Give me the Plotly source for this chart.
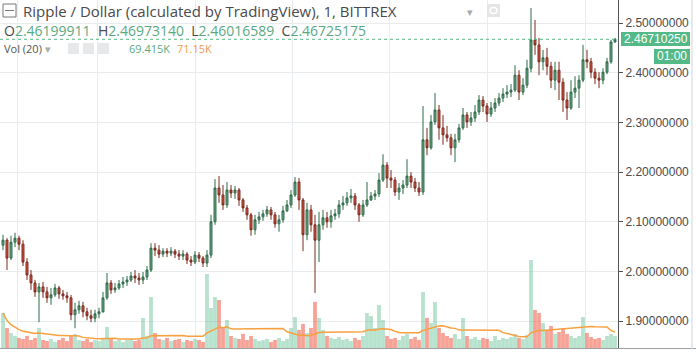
import plotly.graph_objects as go
import pandas as pd

# ---------------- data ----------------
open_ = [2.053,2.063,2.027,2.059,2.067,2.055,2.019,1.993,1.977,1.959,
         1.969,1.959,1.947,1.953,1.967,1.955,1.951,1.947,1.913,1.923,
         1.931,1.919,1.911,1.906,1.915,1.919,1.947,1.977,1.963,1.967,
         1.975,1.979,1.983,1.991,1.987,1.983,1.989,2.003,2.047,2.043,
         2.035,2.041,2.037,2.041,2.035,2.031,2.035,2.023,2.019,2.033,
         2.027,2.017,2.033,2.100,2.168,2.154,2.134,2.164,2.158,2.164,
         2.144,2.128,2.114,2.084,2.104,2.110,2.116,2.124,2.114,2.096,
         2.104,2.122,2.134,2.154,2.180,2.144,2.074,2.124,2.094,2.063,
         2.094,2.108,2.100,2.112,2.116,2.134,2.138,2.148,2.152,2.134,
         2.114,2.134,2.144,2.152,2.156,2.184,2.214,2.188,2.184,2.160,
         2.168,2.174,2.192,2.180,2.168,2.160,2.265,2.249,2.301,2.325,
         2.289,2.275,2.269,2.249,2.265,2.289,2.315,2.301,2.309,2.321,
         2.345,2.333,2.317,2.329,2.339,2.349,2.357,2.361,2.365,2.395,
         2.361,2.375,2.409,2.466,2.456,2.422,2.430,2.413,2.385,2.405,
         2.381,2.345,2.329,2.361,2.369,2.385,2.426,2.422,2.401,2.389,
         2.385,2.401,2.422,2.46199911]
high = [2.074,2.067,2.072,2.078,2.072,2.063,2.027,2.003,1.983,1.977,
        1.979,1.969,1.967,1.975,1.971,1.963,1.959,1.953,1.937,1.941,
        1.939,1.927,1.923,1.923,1.927,1.959,1.997,1.983,1.977,1.983,
        1.989,1.991,1.999,2.003,1.997,1.999,2.011,2.057,2.057,2.053,
        2.047,2.047,2.049,2.045,2.043,2.043,2.039,2.031,2.041,2.039,
        2.031,2.043,2.114,2.186,2.192,2.174,2.180,2.174,2.172,2.168,
        2.148,2.134,2.118,2.114,2.120,2.124,2.132,2.130,2.120,2.114,
        2.132,2.144,2.164,2.190,2.188,2.148,2.138,2.134,2.114,2.120,
        2.124,2.120,2.124,2.126,2.144,2.152,2.160,2.166,2.158,2.138,
        2.144,2.180,2.160,2.164,2.198,2.236,2.220,2.204,2.190,2.178,
        2.184,2.226,2.200,2.188,2.180,2.333,2.289,2.315,2.359,2.335,
        2.315,2.293,2.277,2.277,2.297,2.329,2.321,2.321,2.335,2.355,
        2.353,2.339,2.341,2.349,2.359,2.369,2.375,2.377,2.415,2.405,
        2.389,2.426,2.530,2.506,2.470,2.446,2.450,2.422,2.422,2.422,
        2.389,2.361,2.385,2.393,2.395,2.456,2.446,2.430,2.409,2.401,
        2.409,2.430,2.466,2.46973140]
low = [2.043,2.003,2.023,2.049,2.043,2.011,1.983,1.963,1.949,1.898,
       1.947,1.937,1.933,1.949,1.945,1.943,1.937,1.902,1.886,1.915,
       1.908,1.902,1.898,1.898,1.906,1.917,1.943,1.955,1.957,1.963,
       1.967,1.971,1.979,1.977,1.973,1.975,1.983,1.999,2.031,2.027,
       2.029,2.029,2.031,2.027,2.023,2.023,2.015,2.011,2.015,2.019,
       2.009,2.009,2.027,2.094,2.138,2.124,2.128,2.148,2.146,2.132,
       2.120,2.104,2.072,2.074,2.096,2.102,2.110,2.104,2.088,2.080,
       2.098,2.120,2.128,2.150,2.124,2.041,2.063,2.080,1.957,2.019,
       2.084,2.088,2.088,2.104,2.108,2.124,2.132,2.138,2.124,2.100,
       2.110,2.130,2.142,2.144,2.150,2.180,2.168,2.168,2.152,2.144,
       2.156,2.168,2.168,2.160,2.152,2.154,2.234,2.245,2.295,2.265,
       2.255,2.261,2.234,2.220,2.259,2.285,2.289,2.293,2.301,2.315,
       2.321,2.301,2.311,2.321,2.333,2.341,2.349,2.351,2.361,2.345,
       2.355,2.369,2.401,2.436,2.395,2.405,2.395,2.369,2.365,2.345,
       2.321,2.305,2.325,2.349,2.329,2.381,2.409,2.389,2.377,2.369,
       2.377,2.397,2.418,2.46016589]
close = [2.063,2.027,2.059,2.067,2.055,2.019,1.993,1.977,1.959,1.969,
         1.959,1.947,1.953,1.967,1.955,1.951,1.947,1.913,1.923,1.931,
         1.919,1.911,1.906,1.915,1.919,1.947,1.977,1.963,1.967,1.975,
         1.979,1.983,1.991,1.987,1.983,1.989,2.003,2.047,2.043,2.035,
         2.041,2.037,2.041,2.035,2.031,2.035,2.023,2.019,2.033,2.027,
         2.017,2.033,2.100,2.168,2.154,2.134,2.164,2.158,2.164,2.144,
         2.128,2.114,2.084,2.104,2.110,2.116,2.124,2.114,2.096,2.104,
         2.122,2.134,2.154,2.180,2.144,2.074,2.124,2.094,2.063,2.094,
         2.108,2.100,2.112,2.116,2.134,2.138,2.148,2.152,2.134,2.114,
         2.134,2.144,2.152,2.156,2.184,2.214,2.188,2.184,2.160,2.168,
         2.174,2.192,2.180,2.168,2.160,2.265,2.249,2.301,2.325,2.289,
         2.275,2.269,2.249,2.265,2.289,2.315,2.301,2.309,2.321,2.345,
         2.333,2.317,2.329,2.339,2.349,2.357,2.361,2.365,2.395,2.361,
         2.375,2.409,2.466,2.456,2.422,2.430,2.413,2.385,2.405,2.381,
         2.345,2.329,2.361,2.369,2.385,2.426,2.422,2.401,2.389,2.385,
         2.401,2.422,2.462,2.46725175]
# volume in thousands
volume_k = [201,115,86,69,58,52,69,46,58,115,
            46,40,52,35,46,58,40,69,81,46,
            40,52,35,46,40,58,121,52,40,46,
            35,46,52,40,46,173,69,293,86,52,
            46,58,40,46,52,35,46,40,52,46,
            35,426,230,293,276,115,161,69,58,52,
            81,46,69,52,40,46,52,35,46,58,
            40,52,115,178,104,138,86,115,265,173,
            104,69,58,52,63,46,52,40,58,46,
            69,201,184,115,247,161,69,52,58,46,
            69,81,52,63,46,322,173,144,265,115,
            86,69,58,81,52,173,69,52,63,46,
            58,52,40,69,46,58,52,63,81,58,
            52,75,506,219,201,144,104,127,81,92,
            115,81,69,58,69,178,86,63,52,58,
            46,69,81,69.415]
price_ticks = [1.9, 2.0, 2.1, 2.2, 2.3, 2.4, 2.5]
price_tick_labels = ["1.90000000", "2.00000000", "2.10000000", "2.20000000",
                     "2.30000000", "2.40000000", "2.50000000"]
time_grid = [3.6, 23.7, 48.2, 72.4, 96.6, 121.1, 145.5]
last_price_label = "2.46710250"
countdown = "01:00"

n = len(close)
idx = list(range(n))
vol_ma = pd.Series(volume_k).rolling(20, min_periods=1).mean()

UP_FILL, DN_FILL = "#6ba583", "#d75442"
UP_LINE, DN_LINE = "#2f6b4b", "#7a2a1e"
GREEN = "#53b987"
vol_colors = ["rgba(83,185,135,0.42)" if c >= o else "rgba(240,95,75,0.58)"
              for o, c in zip(open_, close)]

fig = go.Figure()
fig.add_trace(go.Bar(x=idx, y=volume_k, marker=dict(color=vol_colors, line=dict(width=0)),
                     yaxis="y2", showlegend=False, hoverinfo="skip"))
fig.add_trace(go.Scatter(x=idx, y=vol_ma, mode="lines", yaxis="y2",
                         line=dict(color="#f7a040", width=1.5), showlegend=False, hoverinfo="skip"))
fig.add_trace(go.Candlestick(
    x=idx, open=open_, high=high, low=low, close=close,
    increasing=dict(fillcolor=UP_FILL, line=dict(color=UP_LINE, width=1)),
    decreasing=dict(fillcolor=DN_FILL, line=dict(color=DN_LINE, width=1)),
    whiskerwidth=0, showlegend=False))

W, H = 696, 356
PL, PR, PT, PB = 0, 618, 0, 348


def px(xp):
    return (xp - PL) / (PR - PL)


def py(yp):
    return 1 - (yp - PT) / (PB - PT)


FONT = "Open Sans, Lato, sans-serif"
AXFONT = "Liberation Sans, Arial, sans-serif"
shapes = []
annotations = []

# last price dotted line
shapes.append(dict(type="line", xref="paper", yref="y", x0=0, x1=1,
                   y0=close[-1], y1=close[-1], line=dict(color=GREEN, width=1, dash="dot")))
# bottom axis line and right separator
shapes.append(dict(type="line", xref="paper", yref="paper", x0=0, x1=px(W), y0=py(348.5), y1=py(348.5),
                   line=dict(color="#9aa0a4", width=1)))
shapes.append(dict(type="line", xref="paper", yref="paper", x0=px(692), x1=px(692), y0=py(0), y1=py(349),
                   line=dict(color="#d0d4d7", width=1)))
# price label boxes
shapes.append(dict(type="rect", xref="paper", yref="paper", x0=px(621), x1=px(690), y0=py(32), y1=py(46),
                   fillcolor=GREEN, line=dict(width=0)))
shapes.append(dict(type="rect", xref="paper", yref="paper", x0=px(654), x1=px(690), y0=py(49), y1=py(64),
                   fillcolor=GREEN, line=dict(width=0)))
# title collapse icon
shapes.append(dict(type="rect", xref="paper", yref="paper", x0=px(3), x1=px(16), y0=py(4), y1=py(17),
                   line=dict(color="#777777", width=1), fillcolor="rgba(0,0,0,0)"))
shapes.append(dict(type="line", xref="paper", yref="paper", x0=px(5), x1=px(14), y0=py(10.5), y1=py(10.5),
                   line=dict(color="#777777", width=1)))
# eye icon box
shapes.append(dict(type="rect", xref="paper", yref="paper", x0=px(487), x1=px(500), y0=py(4), y1=py(17),
                   fillcolor="#e3e5e7", line=dict(width=0)))
shapes.append(dict(type="circle", xref="paper", yref="paper", x0=px(490), x1=px(497), y0=py(7.5), y1=py(13.5),
                   line=dict(color="#ffffff", width=1.5)))
# volume indicator icons
for x0 in (68, 83, 98):
    shapes.append(dict(type="rect", xref="paper", yref="paper", x0=px(x0), x1=px(x0 + 11),
                       y0=py(43), y1=py(54), fillcolor="#e6e8ea", line=dict(width=0)))

annotations.append(dict(xref="paper", yref="paper", x=px(21), y=py(11), xanchor="left", yanchor="middle",
                        text="Ripple / Dollar (calculated by TradingView), 1, BITTREX",
                        showarrow=False, font=dict(family=FONT, size=15, color="#4a4a4a")))
annotations.append(dict(xref="paper", yref="paper", x=px(465), y=py(11), xanchor="left", yanchor="middle",
                        text="▾", showarrow=False, font=dict(family=FONT, size=11, color="#aaaaaa")))
G = "#5aa882"
ohlc = (f"O<span style='color:{G}'>2.46199911</span>  H<span style='color:{G}'>2.46973140</span>  "
        f"L<span style='color:{G}'>2.46016589</span>  C<span style='color:{G}'>2.46725175</span>")
annotations.append(dict(xref="paper", yref="paper", x=px(2), y=py(30), xanchor="left", yanchor="middle",
                        text=ohlc, showarrow=False, font=dict(family=FONT, size=14, color="#4a4a4a")))
annotations.append(dict(xref="paper", yref="paper", x=px(2), y=py(49), xanchor="left", yanchor="middle",
                        text="Vol (20) <span style='color:#aaaaaa'>▾</span>", showarrow=False,
                        font=dict(family=FONT, size=11, color="#555555")))
annotations.append(dict(xref="paper", yref="paper", x=px(127), y=py(49), xanchor="left", yanchor="middle",
                        text="69.415K", showarrow=False, font=dict(family=FONT, size=11, color=G)))
annotations.append(dict(xref="paper", yref="paper", x=px(175), y=py(49), xanchor="left", yanchor="middle",
                        text="71.15K", showarrow=False, font=dict(family=FONT, size=11, color="#f59a4c")))
annotations.append(dict(xref="paper", yref="paper", x=px(655.5), y=py(39), xanchor="center", yanchor="middle",
                        text=last_price_label, showarrow=False,
                        font=dict(family=AXFONT, size=12, color="#ffffff")))
annotations.append(dict(xref="paper", yref="paper", x=px(672), y=py(56.5), xanchor="center", yanchor="middle",
                        text=countdown, showarrow=False,
                        font=dict(family=AXFONT, size=12, color="#ffffff")))

fig.update_layout(
    width=W, height=H,
    margin=dict(l=PL, r=W - PR, t=PT, b=H - PB),
    paper_bgcolor="white", plot_bgcolor="white",
    showlegend=False, bargap=0.05,
    xaxis=dict(range=[-0.75, n - 0.25], rangeslider=dict(visible=False),
               tickvals=time_grid, showticklabels=False, showgrid=True,
               gridcolor="#e8ecef", zeroline=False, showline=False, ticks=""),
    yaxis=dict(side="right", range=[1.8461, 2.5463], tickvals=price_ticks, ticktext=price_tick_labels,
               showgrid=True, gridcolor="#e8ecef", zeroline=False, showline=True,
               linecolor="#555555", linewidth=1, ticks="outside", ticklen=4, tickcolor="#555555",
               tickfont=dict(family=AXFONT, size=12, color="#4a4a4a")),
    yaxis2=dict(overlaying="y", range=[0, 2001], visible=False, showgrid=False),
    shapes=shapes, annotations=annotations,
)

fig.write_html("out.html", config={"displayModeBar": False},
               post_script="document.body.style.margin='0';")
